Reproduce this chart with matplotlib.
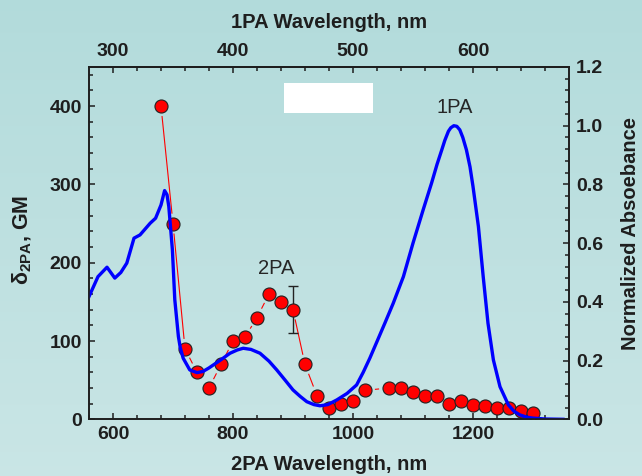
import numpy as np
import matplotlib.pyplot as plt
from matplotlib.ticker import MultipleLocator, FixedLocator
from matplotlib.patches import Rectangle

plt.rcParams['font.family'] = 'Liberation Sans'
plt.rcParams['mathtext.fontset'] = 'custom'
plt.rcParams['mathtext.rm'] = 'Liberation Sans'
plt.rcParams['mathtext.bf'] = 'Liberation Sans:bold'

# two-photon cross sections (GM) vs 2PA wavelength
tpa_wl = [680, 700, 720, 740, 760, 780, 800, 820, 840, 860, 880, 900, 920, 940,
          960, 980, 1000, 1020, 1060, 1080, 1100, 1120, 1140, 1160, 1180, 1200,
          1220, 1240, 1260, 1280, 1300]
tpa_gm = [400, 250, 90, 60, 40, 70, 100, 105, 130, 160, 150, 140, 70, 30,
          15, 20, 24, 37, 40, 40, 35, 30, 30, 20, 24, 18,
          17, 15, 15, 10, 8.5]
err_wl = [900]
err_gm = [140]
err_size = [30]

# one-photon absorbance, plotted against doubled wavelength
opa_wl2 = [560, 575, 590, 603, 613, 623, 635, 645, 662, 671, 680, 686, 690, 693,
           699, 703, 709, 712, 717, 728, 740, 750, 760, 770, 780, 795, 807, 817,
           830, 845, 860, 873, 887, 900, 912, 923, 935, 945, 958, 973, 990, 1006,
           1017, 1028, 1040, 1053, 1067, 1084, 1100, 1117, 1131, 1140, 1148, 1153,
           1159, 1163, 1168, 1173, 1178, 1183, 1189, 1195, 1200, 1209, 1217, 1225,
           1234, 1245, 1259, 1268, 1278, 1290, 1300, 1320, 1350]
opa_abs = [0.418, 0.486, 0.518, 0.481, 0.500, 0.532, 0.617, 0.628, 0.668, 0.685, 0.730, 0.779, 0.765, 0.725,
           0.577, 0.407, 0.282, 0.245, 0.208, 0.168, 0.159, 0.163, 0.175, 0.189, 0.203, 0.225, 0.236, 0.242,
           0.238, 0.225, 0.198, 0.168, 0.133, 0.100, 0.078, 0.060, 0.050, 0.046, 0.050, 0.066, 0.088, 0.117,
           0.160, 0.208, 0.265, 0.327, 0.395, 0.486, 0.600, 0.714, 0.805, 0.868, 0.918, 0.950,
           0.981, 0.993, 1.000, 0.998, 0.986, 0.960, 0.918, 0.860, 0.793, 0.657, 0.486, 0.327,
           0.202, 0.111, 0.049, 0.028, 0.015, 0.007, 0.004, 0.001, 0.0]

W, H = 642, 476
fig = plt.figure(figsize=(W / 100, H / 100), dpi=100)

# soft cyan gradient behind everything
bg = fig.add_axes([0, 0, 1, 1], zorder=-10)
t = np.linspace(0, 1, 256)[:, None, None]
c_top = np.array([0.70, 0.86, 0.86])
c_bot = np.array([0.79, 0.90, 0.90])
bg.imshow(c_top + (c_bot - c_top) * t, aspect='auto', extent=[0, 1, 0, 1])
bg.axis('off')

ax = fig.add_axes([89 / W, 1 - 419.3 / H, 480 / W, 352.3 / H])
ax.set_facecolor('none')
ax.set_xlim(560, 1360)
ax.set_ylim(0, 450)

ink = '#1e1e1e'
for s in ax.spines.values():
    s.set_linewidth(1.2)
    s.set_color(ink)

tick_kw = dict(direction='in', colors=ink, labelsize=14, width=1.1)
ax.xaxis.set_major_locator(MultipleLocator(200))
ax.xaxis.set_minor_locator(MultipleLocator(40))
ax.yaxis.set_major_locator(MultipleLocator(100))
ax.yaxis.set_minor_locator(MultipleLocator(20))
ax.tick_params(which='major', length=4.5, pad=5, **tick_kw)
ax.tick_params(which='minor', length=2.6, **tick_kw)
ax.tick_params(top=False, right=False, which='both')
for lb in ax.get_xticklabels() + ax.get_yticklabels():
    lb.set_fontweight('bold')

# top axis: 1PA wavelength is half the 2PA wavelength
top = ax.secondary_xaxis('top', functions=(lambda x: x / 2, lambda x: x * 2))
top.xaxis.set_major_locator(FixedLocator([300, 400, 500, 600]))
top.xaxis.set_minor_locator(FixedLocator(np.arange(300, 680, 20)))
top.tick_params(which='major', length=4.5, pad=5, **tick_kw)
top.tick_params(which='minor', length=2.6, **tick_kw)
top.spines['top'].set_linewidth(1.2)
for lb in top.get_xticklabels():
    lb.set_fontweight('bold')

ax2 = ax.twinx()
ax2.set_facecolor('none')
ax2.set_ylim(0, 1.2)
ax2.yaxis.set_major_locator(MultipleLocator(0.2))
ax2.yaxis.set_minor_locator(MultipleLocator(0.04))
ax2.yaxis.set_major_formatter(plt.FuncFormatter(lambda v, p: f'{v:.1f}'))
ax2.tick_params(which='major', length=4.5, pad=5, **tick_kw)
ax2.tick_params(which='minor', length=2.6, **tick_kw)
for s in ax2.spines.values():
    s.set_linewidth(1.2)
    s.set_color(ink)
for lb in ax2.get_yticklabels():
    lb.set_fontweight('bold')

# connecting line with a gap around each symbol
gap = 10.5
pts = ax.transData.transform(np.column_stack([tpa_wl, tpa_gm]))
inv = ax.transData.inverted()
for p0, p1 in zip(pts[:-1], pts[1:]):
    d = p1 - p0
    L = np.hypot(*d)
    if L <= 2 * gap:
        continue
    u = d / L
    a = inv.transform(p0 + u * gap)
    b = inv.transform(p1 - u * gap)
    ax.plot([a[0], b[0]], [a[1], b[1]], color='red', lw=0.8, zorder=2)

ax.errorbar(err_wl, err_gm, yerr=err_size, fmt='none', ecolor='#222222',
            elinewidth=1.0, capsize=3.5, capthick=1.0, zorder=2)
ax.plot(tpa_wl, tpa_gm, 'o', ms=9.4, mfc='red', mec='#222222', mew=0.8, zorder=3)

ax.add_patch(Rectangle((885, 391), 148, 39, facecolor='white', edgecolor='none', zorder=4))

ax2.plot(opa_wl2, opa_abs, color='#0000ff', lw=2.4, solid_joinstyle='round')

ax2.text(1170, 1.061, '1PA', ha='center', va='center', fontsize=14.5, color='#262626')
ax.text(872, 193, '2PA', ha='center', va='center', fontsize=14.5, color='#262626')

fig.text(329 / W, 1 - 22 / H, '1PA Wavelength, nm', ha='center', va='center',
         fontsize=14.5, fontweight='bold', color=ink)
fig.text(329 / W, 1 - 465 / H, '2PA Wavelength, nm', ha='center', va='center',
         fontsize=14.5, fontweight='bold', color=ink)
fig.text(22 / W, 1 - 240 / H, 'δ$_{\\mathbf{2PA}}$, GM', ha='center', va='center',
         rotation=90, fontsize=15.5, fontweight='bold', color=ink)
fig.text(630 / W, 1 - 234 / H, 'Normalized Absoebance', ha='center', va='center',
         rotation=90, fontsize=14.5, fontweight='bold', color=ink)

fig.savefig('out.png', dpi=100)
